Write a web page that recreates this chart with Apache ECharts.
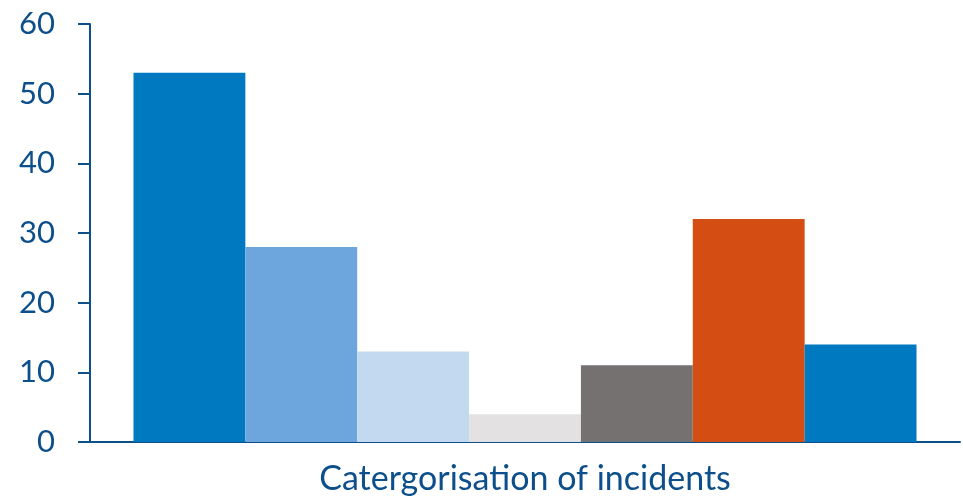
<!DOCTYPE html>
<html>
<head>
<meta charset="utf-8">
<script src="https://cdn.jsdelivr.net/npm/echarts@6/dist/echarts.min.js"></script>
<style>html,body{margin:0;padding:0;background:#fff;}#c{width:963px;height:499px;}</style>
</head>
<body>
<div id="c"></div>
<script>
const categories = ['Catergorisation of incidents'];
const seriesNames = ['Type 1', 'Type 2', 'Type 3', 'Type 4', 'Type 5', 'Type 6', 'Type 7'];
const values = [53, 28, 13, 4, 11, 32, 14];
const yTicks = [0, 10, 20, 30, 40, 50, 60];
const colors = ['#0079c1', '#6ca6dc', '#c3d9ef', '#e3e1e2', '#757170', '#d44e14', '#0079c1'];

const axisColor = '#0d4f8b';
const chart = echarts.init(document.getElementById('c'), null, {renderer: 'canvas'});
chart.setOption({
  animation: false,
  backgroundColor: '#fff',
  grid: {left: 90, right: 3, top: 24, bottom: 57, containLabel: false},
  xAxis: {
    type: 'category',
    data: categories,
    axisLine: {show: true, lineStyle: {color: axisColor, width: 2}},
    axisTick: {show: false},
    axisLabel: {color: axisColor, fontFamily: 'Lato', fontSize: 34, margin: 20}
  },
  yAxis: {
    type: 'value',
    min: yTicks[0], max: yTicks[yTicks.length - 1], interval: 10,
    splitLine: {show: false},
    axisLine: {show: true, lineStyle: {color: axisColor, width: 2}},
    axisTick: {show: true, length: 12, lineStyle: {color: axisColor, width: 2}},
    axisLabel: {color: axisColor, fontFamily: 'Lato', fontSize: 31, margin: 35}
  },
  series: seriesNames.map((n, i) => ({
    name: n,
    type: 'bar',
    data: [values[i]],
    barGap: '0%',
    barCategoryGap: '10%',
    itemStyle: {color: colors[i]}
  }))
});
</script>
</body>
</html>
